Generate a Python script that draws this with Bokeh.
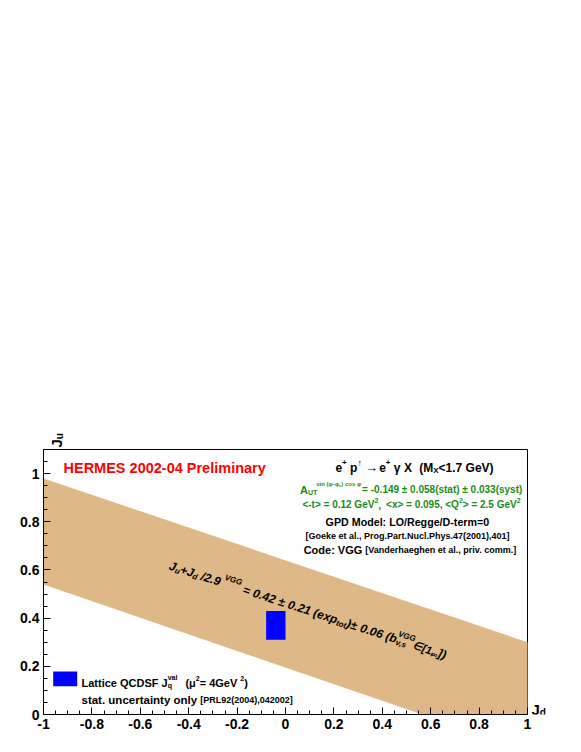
import math
from bokeh.plotting import figure
from bokeh.models import Range1d, FixedTicker, Label, BoxAnnotation
from bokeh.embed import file_html
from bokeh.resources import INLINE

# ---------------- data ----------------
# allowed band  J_u + J_d/2.9 = 0.42 +- 0.21 (exp) +- 0.06 (model)
band_upper_jd = [-1.0, 1.0]
band_upper_ju = [0.98, 0.30]
band_lower_jd = [1.0, 0.565, -1.0]
band_lower_ju = [0.0, 0.0, 0.54]

# lattice QCDSF point (box)
lattice_jd = [-0.08, 0.0]   # left, right
lattice_ju = [0.31, 0.43]   # bottom, top

# plot box limits
jd_lim = [-1.0, 1.0]
ju_lim = [0.0, 1.1]

x_ticks = [-1, -0.8, -0.6, -0.4, -0.2, 0, 0.2, 0.4, 0.6, 0.8, 1]
x_tick_labels = ["-1", "-0.8", "-0.6", "-0.4", "-0.2", "0", "0.2", "0.4", "0.6", "0.8", "1"]
y_ticks = [0, 0.2, 0.4, 0.6, 0.8, 1]
y_tick_labels = ["0", "0.2", "0.4", "0.6", "0.8", "1"]

FONT = "Liberation Sans"
GREEN = "#1a8c1a"

# geometry of the figure (pixels): plot box 43..527 x 449..714
W_FIG, H_FIG = 565, 736
BOX_L, BOX_R, BOX_T, BOX_B = 43, 527, 449, 714
SX = (BOX_R - BOX_L) / (jd_lim[1] - jd_lim[0])
SY = (BOX_B - BOX_T) / (ju_lim[1] - ju_lim[0])
x_range = Range1d(jd_lim[0], jd_lim[1] + (W_FIG - BOX_R) / SX)
y_range = Range1d(ju_lim[0], ju_lim[0] + BOX_B / SY)

p = figure(width=W_FIG, height=H_FIG, x_range=x_range, y_range=y_range, title=None,
           output_backend="svg", toolbar_location=None,
           min_border_left=BOX_L, min_border_right=0, min_border_top=0,
           min_border_bottom=H_FIG - BOX_B)
p.background_fill_color = "white"
p.border_fill_color = "white"
p.outline_line_color = None
p.xgrid.visible = False
p.ygrid.visible = False

xs = band_upper_jd + band_lower_jd
ys = band_upper_ju + band_lower_ju
p.patch(x=xs, y=ys, fill_color="#deb887", line_color=None)
p.quad(left=[lattice_jd[0]], right=[lattice_jd[1]], bottom=[lattice_ju[0]], top=[lattice_ju[1]],
       fill_color="#0000ff", line_color=None)

# plot box outline
p.add_layout(BoxAnnotation(left=jd_lim[0], right=jd_lim[1], bottom=ju_lim[0], top=ju_lim[1],
                           fill_alpha=0, line_color="black", line_width=1, line_alpha=1,
                           level="underlay"))

xmin = [round(-1 + 0.05 * i, 2) for i in range(41)]
ymin = [round(0.05 * i, 2) for i in range(23)]
p.xaxis.ticker = FixedTicker(ticks=x_ticks, minor_ticks=xmin)
p.yaxis.ticker = FixedTicker(ticks=y_ticks, minor_ticks=ymin)
p.xaxis.major_label_overrides = dict(zip(x_ticks, x_tick_labels))
p.yaxis.major_label_overrides = dict(zip(y_ticks, y_tick_labels))
p.xaxis.bounds = (jd_lim[0], jd_lim[1])
p.yaxis.bounds = (ju_lim[0], ju_lim[1])
for ax in (p.xaxis[0], p.yaxis[0]):
    ax.axis_line_color = "black"
    ax.major_tick_line_color = "black"
    ax.minor_tick_line_color = "black"
    ax.major_tick_in = 7
    ax.major_tick_out = 0
    ax.minor_tick_in = 4
    ax.minor_tick_out = 0
    ax.major_label_text_font = FONT
    ax.major_label_text_font_style = "bold"
    ax.major_label_text_font_size = "14px"
    ax.major_label_text_color = "black"
p.xaxis.major_label_standoff = 4
p.yaxis.major_label_standoff = 4

# ---------------- text helpers ----------------
W = {' ': .278, '!': .333, '(': .333, ')': .333, '+': .584, ',': .278, '-': .333, '.': .278,
     '/': .278, ':': .333, '<': .584, '=': .584, '>': .584, '[': .333, ']': .333,
     'A': .722, 'B': .722, 'C': .722, 'D': .722, 'E': .667, 'F': .611, 'G': .778, 'H': .722,
     'I': .278, 'J': .556, 'K': .722, 'L': .611, 'M': .833, 'N': .722, 'O': .778, 'P': .667,
     'Q': .778, 'R': .722, 'S': .667, 'T': .611, 'U': .722, 'V': .667, 'W': .944, 'X': .667,
     'Y': .667, 'Z': .611,
     'a': .556, 'b': .611, 'c': .556, 'd': .611, 'e': .556, 'f': .333, 'g': .611, 'h': .611,
     'i': .278, 'j': .278, 'k': .556, 'l': .278, 'm': .889, 'n': .611, 'o': .611, 'p': .611,
     'q': .611, 'r': .389, 's': .556, 't': .333, 'u': .611, 'v': .556, 'w': .778, 'x': .556,
     'y': .556, 'z': .5,
     '±': .584, '→': .84, '↑': .5, 'γ': .556, 'μ': .611, 'φ': .7, '∈': .712, '∞': .75}
for d in "0123456789":
    W[d] = .556


def tw(s, size):
    return sum(W.get(c, 0.6) for c in s) * size


# picture pixel -> data coordinate
def dx(px):
    return jd_lim[0] + (px - BOX_L) / SX


def dy(py):
    return ju_lim[0] + (BOX_B - py) / SY


def rich(segs, px, py, color="black", angle_deg=0.0, align="left", style="bold"):
    th = math.radians(angle_deg)
    ca, sa = math.cos(th), math.sin(th)
    total = 0.0
    for seg in segs:
        if seg[0] is None:
            total += seg[1]
        elif len(seg) < 4 or seg[3]:
            total += tw(seg[0], seg[1])
    s = -total / 2 if align == "center" else 0.0
    ax, ay = dx(px), dy(py)
    for seg in segs:
        if seg[0] is None:
            s += seg[1]
            continue
        text, size, rise = seg[0], seg[1], seg[2]
        adv = seg[3] if len(seg) > 3 else True
        core = text.strip(" ")
        lead = (len(text) - len(text.lstrip(" "))) * W[' '] * size
        s0 = s + lead
        p.add_layout(Label(x=ax, y=ay, x_offset=s0 * ca - rise * sa, y_offset=s0 * sa + rise * ca,
                           angle=th, text=core, text_font=FONT, text_font_size=f"{size}px",
                           text_font_style=style, text_color=color,
                           text_baseline="alphabetic", text_align="left"))
        if adv:
            s += tw(text, size)


# title
rich([("HERMES 2002-04 Preliminary", 14.5, 0)], 63, 467, color="#ff0000")

# reaction
rich([("e", 12, 0), ("+", 8, 5), (" p", 12, 0), ("↑", 9, 5), (None, 3), ("→", 13, 0), (" e", 12, 0),
      ("+", 8, 5), (" γ X", 12, 0), (None, 4), (" (M", 12, 0), ("X", 8, -3), ("<1.7 GeV)", 12, 0)],
     414, 467, align="center")

# green lines
rich([("A", 11, 0), ("UT", 7, -3), (None, -1), ("sin (φ-φ", 6, 6), ("s", 4, 4.5), (") cos φ", 6, 6),
      (None, 1), ("= -0.149 ± 0.058(stat) ± 0.033(syst)", 10, 0)],
     411, 489, color=GREEN, align="center")
rich([("<-t> = 0.12 GeV", 10, 0), ("2", 7, 4), (",", 10, 0), (None, 5), ("<x> = 0.095, <Q", 10, 0),
      ("2", 7, 4), ("> = 2.5 GeV", 10, 0), ("2", 7, 4)],
     411, 504, color=GREEN, align="center")

rich([("GPD Model: LO/Regge/D-term=0", 10.7, 0)], 407, 521, align="center")
rich([("[Goeke et al., Prog.Part.Nucl.Phys.47(2001),401]", 9, 0)], 407, 535, align="center")
rich([("Code: VGG", 11, 0), (None, 3), ("[Vanderhaeghen et al., priv. comm.]", 9, 0)],
     410, 549, align="center")

# band annotation
rich([("J", 12, 0), ("u", 8, -3), ("+J", 12, 0), ("d", 8, -3), (" /2.9", 12, 0), (None, 3),
      ("VGG", 8, 6), (" = 0.42", 12, 0), (" ±", 12, 0), (" 0.21 (exp", 12, 0), ("tot", 8, -3),
      (")", 12, 0), ("±", 12, 0), (" 0.06 (b", 12, 0), ("VGG", 8, 6, False), ("v,s", 8, -3),
      (None, 6), ("∈[1,", 11, 0), ("∞", 8, -3), ("])", 12, 0)],
     169, 565, angle_deg=-18, style="bold italic")

# legend
p.add_layout(BoxAnnotation(left=dx(52.7), right=dx(76.7), top=dy(671), bottom=dy(685.7),
                           fill_color="#0000ff", fill_alpha=1.0, line_alpha=0))
rich([("Lattice QCDSF J", 11, 0), ("q", 7, -3, False), ("val", 7, 5), (None, 8), ("(μ", 11, 0),
      ("2", 7, 4), ("= 4GeV ", 11, 0), ("2", 7, 4), (")", 11, 0)], 81, 682)
rich([("stat. uncertainty only", 11.5, 0), (None, 3), ("[PRL92(2004),042002]", 9, 0)], 81, 699)

# axis titles (kept inside the drawable area, next to the axis ends)
rich([("J", 15, 0), ("u", 10, -3)], 56, 447, angle_deg=90)
rich([("J", 15, 0), ("d", 10, -3)], 531, 709)

open("out.html", "w").write(file_html(p, INLINE))
